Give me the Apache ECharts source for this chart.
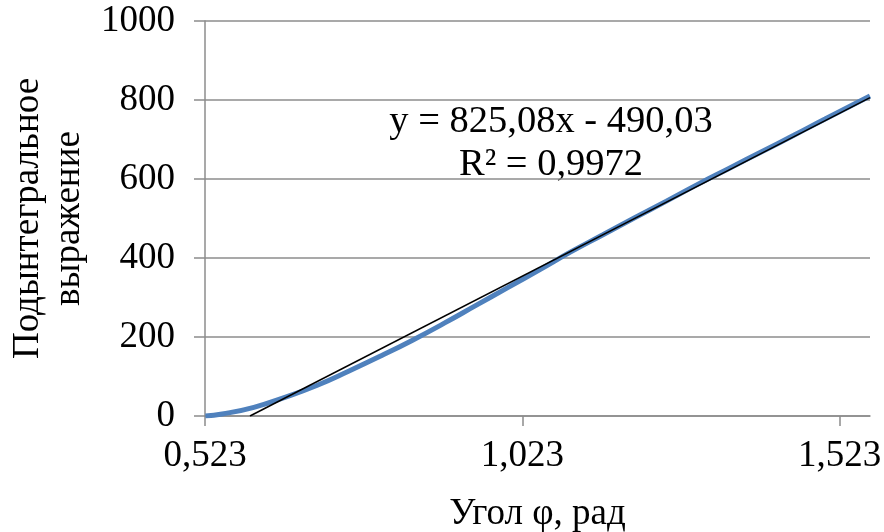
<!DOCTYPE html>
<html><head><meta charset="utf-8">
<script src="https://cdn.jsdelivr.net/npm/echarts@6/dist/echarts.min.js"></script>
<style>html,body{margin:0;padding:0;background:#fff}#c{width:884px;height:532px}</style>
</head><body><div id="c"></div>
<script>
// Data
const angles = [0.5236, 0.55, 0.60, 0.65, 0.70, 0.75, 0.80, 0.85, 0.90, 0.95, 1.00, 1.05, 1.10, 1.15, 1.20, 1.25, 1.30, 1.35, 1.40, 1.45, 1.50, 1.5708];
const integrand = [0, 5, 22, 48, 78, 114, 152, 192, 235, 280, 325, 370, 416, 459, 502, 544, 587, 628, 669, 710, 752, 810];
const trendX = [0.5939, 1.5708];
const trendY = [0, 806];
const xTickValues = [0.523, 1.023, 1.523];
const equationLines = ['y = 825,08x - 490,03', 'R² = 0,9972'];
const xTitle = 'Угол φ, рад';
const yTitle = 'Подынтегральное\nвыражение';

const FONT = "'Liberation Serif','Times New Roman',serif";
const GRAY = '#8c8c8c';
const FS = 37;
const chart = echarts.init(document.getElementById('c'), null, {renderer: 'canvas'});
const fmt = v => v.toFixed(3).replace('.', ',');

chart.setOption({
  animation: false,
  backgroundColor: '#fff',
  grid: {left: 205, right: 14, top: 21, bottom: 116, containLabel: false, outerBoundsMode: 'none'},
  xAxis: {
    type: 'value', min: 0.523, max: 1.5708,
    name: xTitle, nameLocation: 'middle', nameGap: 80,
    nameTextStyle: {fontFamily: FONT, fontSize: FS, color: '#000'},
    axisLine: {show: true, onZero: false, lineStyle: {color: GRAY, width: 1.5}},
    axisTick: {show: true, length: 10, lineStyle: {color: GRAY, width: 1.5}, customValues: xTickValues},
    axisLabel: {customValues: xTickValues, formatter: fmt, fontFamily: FONT, fontSize: FS, color: '#000', margin: 22, hideOverlap: false},
    splitLine: {show: false}
  },
  yAxis: {
    type: 'value', min: 0, max: 1000, interval: 200,
    name: yTitle, nameLocation: 'middle', nameGap: 112, nameRotate: 90,
    nameTextStyle: {fontFamily: FONT, fontSize: FS, color: '#000', lineHeight: 41},
    axisLine: {show: true, lineStyle: {color: GRAY, width: 1.5}},
    axisTick: {show: true, length: 11, lineStyle: {color: GRAY, width: 1.5}},
    axisLabel: {formatter: v => String(v), fontFamily: FONT, fontSize: FS, color: '#000', margin: 30},
    splitLine: {show: true, lineStyle: {color: GRAY, width: 1.5}}
  },
  series: [
    {
      type: 'line', name: 'data',
      data: angles.map((a, i) => [a, integrand[i]]),
      smooth: true, showSymbol: false,
      lineStyle: {color: '#4F81BD', width: 5},
      z: 2
    },
    {
      type: 'line', name: 'trend',
      data: trendX.map((a, i) => [a, trendY[i]]),
      showSymbol: false,
      lineStyle: {color: '#000', width: 1.5},
      z: 3
    }
  ],
  graphic: [{
    type: 'text', x: 551, y: 100,
    style: {text: equationLines.join('\n'), fontFamily: FONT, fontSize: 38.5, lineHeight: 43, fill: '#000', align: 'center', verticalAlign: 'top'}
  }]
});
</script></body></html>
